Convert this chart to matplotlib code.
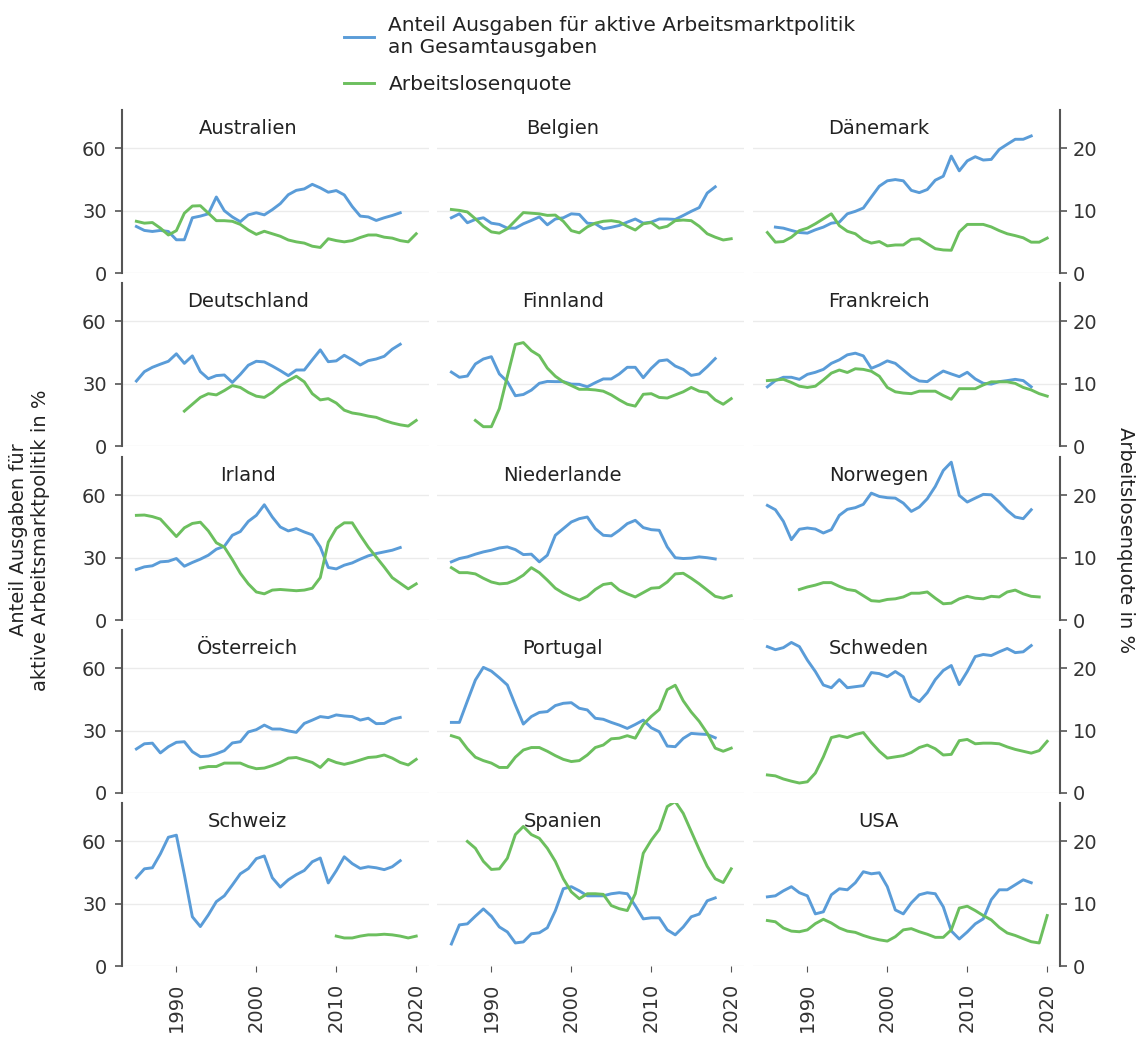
import matplotlib
matplotlib.use("Agg")
import matplotlib.pyplot as plt

plt.rcParams['font.family'] = ['DejaVu Sans']

# Anteil Ausgaben fuer aktive Arbeitsmarktpolitik an Gesamtausgaben (%), linke Achse
# Arbeitslosenquote (%), rechte Achse
laender = ["Australien", "Belgien", "Dänemark", "Deutschland", "Finnland", "Frankreich",
           "Irland", "Niederlande", "Norwegen", "Österreich", "Portugal", "Schweden",
           "Schweiz", "Spanien", "USA"]

aus_anteil = [22.4, 20.5, 20, 20.5, 20, 16, 16, 26.6, 27.4, 28.5, 36.6, 30, 27, 24.7, 28, 29, 28,
              30.5, 33.4, 37.7, 39.8, 40.5, 42.7, 41, 38.9, 39.7, 37.6, 32, 27.4, 27, 25.3, 26.6, 27.7, 29]
aus_alq = [8.3, 8.0, 8.1, 7.2, 6.1, 6.8, 9.6, 10.75, 10.8, 9.6, 8.4, 8.4, 8.3, 7.8, 6.9, 6.2, 6.7, 6.3,
           5.9, 5.3, 5.0, 4.8, 4.3, 4.1, 5.5, 5.2, 5.0, 5.2, 5.7, 6.1, 6.1, 5.75, 5.6, 5.2, 5.0, 6.3]

bel_anteil = [26.6, 28.5, 24.2, 25.8, 26.6, 24, 23.4, 21.6, 21.6, 23.7, 25.3, 27, 23.2, 26, 26.6, 28.5,
              28.2, 24, 23.7, 21.3, 22, 22.9, 24.5, 26, 24, 24.5, 26, 26, 25.8, 27.7, 29.7, 31.5, 38.5, 41.5]
bel_alq = [10.2, 10.05, 9.8, 8.7, 7.5, 6.6, 6.4, 7.1, 8.4, 9.7, 9.6, 9.5, 9.25, 9.3, 8.3, 6.8, 6.45, 7.4,
           8.0, 8.3, 8.4, 8.2, 7.5, 6.9, 7.9, 8.1, 7.2, 7.5, 8.4, 8.5, 8.4, 7.5, 6.3, 5.75, 5.3, 5.5]

dnk_anteil = [22.1, 21.6, 20.5, 19.5, 19.2, 20.8, 22.1, 24, 24.5, 28.5, 29.7, 31.3, 36.6, 41.8, 44.4,
              45, 44.4, 39.8, 38.7, 40.2, 44.7, 46.6, 56.3, 49.2, 54, 56, 54.4, 54.7, 59.5, 62, 64.4, 64.4, 66]
dnk_alq = [6.5, 4.95, 5.05, 5.75, 6.8, 7.2, 7.9, 8.7, 9.5, 7.6, 6.7, 6.3, 5.3, 4.8, 5.05, 4.35, 4.5, 4.5,
           5.4, 5.5, 4.7, 3.9, 3.7, 3.65, 6.6, 7.8, 7.8, 7.8, 7.4, 6.8, 6.3, 6.0, 5.65, 4.95, 4.95, 5.6]

deu_anteil = [31.3, 35.8, 37.9, 39.4, 40.8, 44.4, 39.8, 43.4, 35.8, 32.4, 33.9, 34.2, 30.6, 34.5, 38.9,
              40.8, 40.5, 38.5, 36.3, 33.9, 36.6, 36.6, 41.5, 46.3, 40.6, 41, 43.7, 41.5, 39, 41.1, 41.9,
              43.2, 46.6, 49]
deu_alq = [5.6, 6.7, 7.8, 8.4, 8.2, 8.9, 9.7, 9.4, 8.6, 8.0, 7.8, 8.6, 9.7, 10.5, 11.2, 10.3, 8.4, 7.4,
           7.6, 6.9, 5.75, 5.3, 5.1, 4.8, 4.6, 4.1, 3.7, 3.4, 3.2, 4.1]

fin_anteil = [35.6, 33.1, 33.7, 39.5, 41.9, 43, 34.7, 31, 24.2, 24.8, 26.9, 30.2, 31.1, 31, 31, 29.8,
              29.7, 28.5, 30.5, 32.3, 32.3, 34.7, 37.9, 37.9, 32.9, 37.4, 41, 41.5, 38.5, 36.9, 34, 34.7,
              38.2, 42.1]
fin_alq = [4.1, 3.1, 3.1, 6.0, 11.2, 16.3, 16.6, 15.3, 14.5, 12.5, 11.2, 10.3, 9.7, 9.1, 9.1, 9.0, 8.8,
           8.2, 7.4, 6.7, 6.4, 8.3, 8.4, 7.8, 7.7, 8.2, 8.7, 9.4, 8.8, 8.6, 7.4, 6.7, 7.6]

fra_anteil = [28.5, 31.5, 33.1, 33.1, 32.1, 34.5, 35.5, 36.9, 39.8, 41.5, 43.9, 44.7, 43.4, 37.4, 39,
              41, 39.8, 36.6, 33.4, 31.3, 31, 33.7, 36.1, 34.7, 33.4, 35.5, 32.3, 30.2, 29.8, 31, 31.5,
              32.1, 31.5, 28.5]
fra_alq = [10.5, 10.6, 10.7, 10.2, 9.6, 9.4, 9.6, 10.6, 11.7, 12.2, 11.8, 12.4, 12.3, 12.0, 11.2, 9.4,
           8.7, 8.5, 8.4, 8.8, 8.8, 8.8, 8.1, 7.5, 9.2, 9.2, 9.2, 9.8, 10.3, 10.3, 10.3, 10.05, 9.4, 9.0,
           8.4, 8.0]

irl_anteil = [24.3, 25.6, 26.1, 28, 28.3, 29.6, 25.9, 27.7, 29.3, 31.2, 34.1, 35.5, 40.8, 42.6, 47.5,
              50.4, 55.5, 49.6, 44.8, 42.9, 44, 42.4, 41, 35.2, 25.3, 24.6, 26.4, 27.5, 29.3, 30.9, 32,
              32.8, 33.6, 34.9]
irl_alq = [16.8, 16.85, 16.6, 16.2, 14.8, 13.4, 14.8, 15.5, 15.7, 14.3, 12.4, 11.7, 9.7, 7.5, 5.8, 4.5,
           4.2, 4.8, 4.9, 4.8, 4.7, 4.8, 5.1, 6.8, 12.5, 14.7, 15.6, 15.6, 13.6, 11.7, 10.1, 8.5, 6.8,
           5.9, 5.0, 5.8]

nld_anteil = [28, 29.6, 30.4, 31.7, 32.8, 33.6, 34.7, 35.2, 33.9, 31.5, 31.7, 28, 31.2, 40.8, 44, 47.2,
              48.8, 49.6, 44, 40.8, 40.5, 43.2, 46.4, 48, 44.5, 43.5, 43.2, 35.2, 30, 29.6, 29.8, 30.4,
              30, 29.4]
nld_alq = [8.4, 7.6, 7.6, 7.4, 6.7, 6.1, 5.8, 5.9, 6.4, 7.2, 8.4, 7.6, 6.4, 5.1, 4.3, 3.7, 3.2, 3.8,
           4.9, 5.7, 5.9, 4.8, 4.2, 3.7, 4.4, 5.1, 5.2, 6.1, 7.4, 7.5, 6.7, 5.8, 4.8, 3.8, 3.5, 3.9]

nor_anteil = [55.2, 53.1, 47.5, 38.7, 43.7, 44.3, 43.8, 41.9, 43.5, 50.4, 53.3, 54.1, 55.7, 61.1, 59.5,
              58.9, 58.7, 56.3, 52.3, 54.4, 58.4, 64.3, 72, 76, 60, 56.8, 58.7, 60.5, 60.3, 56.8, 52.8,
              49.6, 48.8, 53.1]
nor_alq = [4.9, 5.3, 5.6, 6.0, 6.0, 5.4, 4.9, 4.7, 3.9, 3.1, 3.0, 3.3, 3.4, 3.7, 4.3, 4.3, 4.5, 3.5,
           2.6, 2.7, 3.4, 3.8, 3.5, 3.4, 3.8, 3.7, 4.5, 4.8, 4.2, 3.8, 3.7]

aut_anteil = [21.2, 23.7, 24, 19.3, 22.3, 24.4, 24.7, 19.9, 17.5, 17.8, 18.9, 20.4, 24.1, 24.7, 29.4,
              30.5, 32.7, 30.8, 30.8, 29.9, 29.2, 33.5, 35.1, 36.8, 36.3, 37.6, 37.1, 36.8, 35.1, 36,
              33.4, 33.5, 35.5, 36.4]
aut_alq = [4.0, 4.25, 4.25, 4.8, 4.8, 4.8, 4.25, 3.9, 4.0, 4.4, 4.9, 5.6, 5.7, 5.3, 4.9, 4.1, 5.4, 4.9,
           4.6, 4.9, 5.3, 5.7, 5.8, 6.1, 5.6, 4.9, 4.5, 5.4]

prt_anteil = [34, 34, 44.3, 54.4, 60.5, 58.7, 55.5, 52, 42.4, 33.2, 36.8, 38.8, 39.2, 42.1, 43.2, 43.5,
              40.8, 40, 36, 35.5, 34, 32.7, 31.1, 33, 35.1, 31.4, 29.5, 22.6, 22.3, 26.3, 28.7, 28.4,
              28.2, 26.6]
prt_alq = [9.2, 8.8, 7.1, 5.75, 5.2, 4.8, 4.1, 4.1, 5.75, 6.9, 7.3, 7.3, 6.7, 6.0, 5.4, 5.05, 5.2, 6.1,
           7.3, 7.7, 8.7, 8.8, 9.2, 8.8, 11.0, 12.3, 13.4, 16.6, 17.3, 14.8, 13.0, 11.5, 9.6, 7.2, 6.7, 7.2]

swe_anteil = [70.5, 69, 70, 72.5, 70.5, 64, 58.5, 52, 50.7, 54.6, 50.7, 51.2, 51.7, 58, 57.5, 56, 58.5,
              56, 46.4, 44, 48.3, 54.6, 59, 61.4, 52.2, 58.5, 65.7, 66.7, 66.2, 68, 69.6, 67.6, 68, 71]
swe_alq = [2.9, 2.75, 2.25, 1.9, 1.6, 1.8, 3.2, 5.8, 8.9, 9.2, 8.9, 9.4, 9.7, 8.1, 6.7, 5.6, 5.8, 6.0,
           6.5, 7.3, 7.7, 7.1, 6.1, 6.2, 8.4, 8.6, 7.9, 8.0, 8.0, 7.9, 7.4, 7.0, 6.7, 6.4, 6.8, 8.3]

che_anteil = [42.5, 46.8, 47.3, 54, 62, 63, 44, 23.7, 19, 24.6, 31, 33.8, 39, 44.4, 46.9, 51.7, 53,
              42.5, 38, 41.5, 44, 46, 50.2, 52, 40, 45.9, 52.6, 49.3, 47, 47.8, 47.3, 46.4, 47.8, 50.7]
che_alq = [4.8, 4.5, 4.5, 4.8, 5.0, 5.0, 5.1, 5.0, 4.8, 4.5, 4.8]

esp_anteil = [10.6, 19.8, 20.3, 24, 27.5, 24, 18.8, 16.4, 11.1, 11.6, 15.5, 16, 18.4, 26.6, 37.2, 38.2,
              36.2, 33.8, 33.8, 33.8, 34.8, 35.3, 34.8, 29, 22.7, 23.2, 23.2, 17.4, 15, 18.8, 23.7, 25,
              31.4, 32.8]
esp_alq = [20, 18.9, 16.8, 15.5, 15.6, 17.3, 21.1, 22.4, 21.1, 20.5, 18.9, 16.8, 14, 11.9, 10.8, 11.6,
           11.6, 11.5, 9.7, 9.2, 8.9, 11.6, 18.1, 20.2, 21.9, 25.6, 26.4, 24.5, 21.6, 18.7, 16, 14, 13.4, 15.6]

usa_anteil = [33.3, 33.8, 36.2, 38.2, 35.3, 33.8, 25.1, 26.1, 34.3, 37.2, 36.7, 40.1, 45.4, 44.4, 44.9,
              38.2, 27, 25.1, 30.4, 34.3, 35.3, 34.8, 28.5, 16.9, 13, 16.4, 20.3, 22.7, 31.9, 36.7, 36.7,
              39.1, 41.5, 40.1]
usa_alq = [7.3, 7.1, 6.1, 5.6, 5.5, 5.8, 6.8, 7.5, 6.9, 6.1, 5.6, 5.4, 4.9, 4.5, 4.2, 4.0, 4.7, 5.8, 6.0,
           5.5, 5.1, 4.6, 4.6, 5.8, 9.3, 9.6, 8.9, 8.1, 7.4, 6.2, 5.3, 4.9, 4.4, 3.9, 3.7, 8.1]

anteil = [aus_anteil, bel_anteil, dnk_anteil, deu_anteil, fin_anteil, fra_anteil, irl_anteil,
          nld_anteil, nor_anteil, aut_anteil, prt_anteil, swe_anteil, che_anteil, esp_anteil, usa_anteil]
anteil_start = [1985, 1985, 1986, 1985, 1985, 1985, 1985, 1985, 1985, 1985, 1985, 1985, 1985, 1985, 1985]
alq = [aus_alq, bel_alq, dnk_alq, deu_alq, fin_alq, fra_alq, irl_alq, nld_alq, nor_alq, aut_alq,
       prt_alq, swe_alq, che_alq, esp_alq, usa_alq]
alq_start = [1985, 1985, 1985, 1991, 1988, 1985, 1985, 1985, 1989, 1993, 1985, 1985, 2010, 1987, 1985]

blau = "#5a9cd8"
gruen = "#6cbf5e"
grau = "#555555"

W, H = 1138, 1038
fig = plt.figure(figsize=(W / 100, H / 100), dpi=100)

col_left = [122, 437, 753]
row_top = [110, 283, 457, 630, 803]
pw, ph = 307, 163

for i, name in enumerate(laender):
    r, c = divmod(i, 3)
    ax = fig.add_axes([col_left[c] / W, 1 - (row_top[r] + ph) / H, pw / W, ph / H])
    ax2 = ax.twinx()

    jahre_a = list(range(anteil_start[i], anteil_start[i] + len(anteil[i])))
    jahre_q = list(range(alq_start[i], alq_start[i] + len(alq[i])))
    l1, = ax.plot(jahre_a, anteil[i], color=blau, lw=2.1, zorder=3)
    l2, = ax2.plot(jahre_q, alq[i], color=gruen, lw=2.1, zorder=3)

    ax.set_xlim(1983.2, 2021.6)
    ax.set_ylim(0, 78.5)
    ax2.set_ylim(0, 78.5 / 3)
    ax.set_yticks([0, 30, 60])
    ax2.set_yticks([0, 10, 20])
    ax.set_xticks([1990, 2000, 2010, 2020])
    ax.grid(axis='y', color='#ebebeb', lw=1)
    ax.set_axisbelow(True)

    for s in ['top', 'bottom', 'right']:
        ax.spines[s].set_visible(False)
    for s in ['top', 'bottom', 'left']:
        ax2.spines[s].set_visible(False)

    if c == 0:
        ax.spines['left'].set_color(grau)
        ax.spines['left'].set_linewidth(1.5)
        ax.tick_params(axis='y', length=5, width=1.2, color=grau, labelsize=14,
                       labelcolor='#333333', pad=6)
    else:
        ax.spines['left'].set_visible(False)
        ax.tick_params(axis='y', left=False, labelleft=False)

    if c == 2:
        ax2.spines['right'].set_color(grau)
        ax2.spines['right'].set_linewidth(1.5)
        ax2.tick_params(axis='y', length=5, width=1.2, color=grau, labelsize=14,
                        labelcolor='#333333', pad=4)
    else:
        ax2.spines['right'].set_visible(False)
        ax2.tick_params(axis='y', right=False, labelright=False)

    if r == 4:
        ax.tick_params(axis='x', length=4, color=grau, labelsize=14, labelcolor='#333333',
                       labelrotation=90, pad=8)
    else:
        ax.tick_params(axis='x', bottom=False, labelbottom=False)

    ax.text(0.41, 0.885, name, transform=ax.transAxes, ha='center', va='center',
            fontsize=14, color='#222222', zorder=5)

fig.legend(handles=[l1, l2],
           labels=["Anteil Ausgaben für aktive Arbeitsmarktpolitik\nan Gesamtausgaben",
                   "Arbeitslosenquote"],
           loc='upper left', bbox_to_anchor=(326 / W, 1 + 2 / H), frameon=False,
           fontsize=14.5, handlelength=1.5, handletextpad=0.7, labelspacing=0.9,
           labelcolor='#222222')

fig.text(30 / W, 1 - 540 / H, "Anteil Ausgaben für\naktive Arbeitsmarktpolitik in %",
         rotation=90, ha='center', va='center', fontsize=14, color='#222222',
         multialignment='center')
fig.text(1125 / W, 1 - 540 / H, "Arbeitslosenquote in %", rotation=270, ha='center',
         va='center', fontsize=14, color='#222222')

fig.savefig("out.png", dpi=100)
